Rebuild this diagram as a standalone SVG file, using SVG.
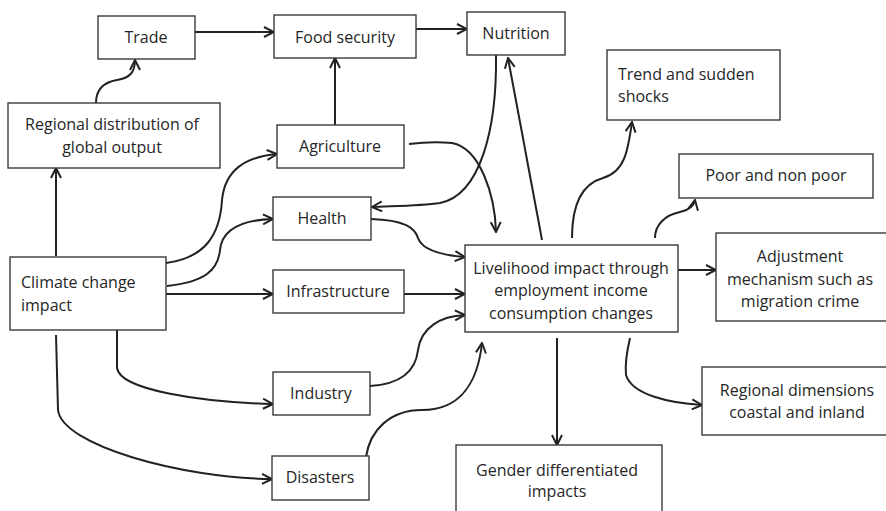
<svg xmlns="http://www.w3.org/2000/svg" width="886" height="511" viewBox="0 0 886 511">
<style>
.box{fill:#fff;stroke:#3a3a3a;stroke-width:1.4}
.t{font-family:"Open Sans","DejaVu Sans",sans-serif;font-size:16px;fill:#262626}
.c{text-anchor:middle}
.e{fill:none;stroke:#222;stroke-width:2;marker-end:url(#a)}
</style>
<defs>
<marker id="a" viewBox="0 0 12 12" refX="11" refY="6" markerWidth="12" markerHeight="12" markerUnits="userSpaceOnUse" orient="auto">
<path d="M1,1 L11,6 L1,11" fill="none" stroke="#222" stroke-width="2"/>
</marker>
</defs>
<rect width="886" height="511" fill="#fff"/>
<g id="connectors">
<path class="e" d="M195,32 L274,32"/>
<path class="e" d="M416,29 L467,29"/>
<path class="e" d="M335,125 L335,58"/>
<path class="e" d="M96,103 C96,88 105,82 117,80 C130,78 135,72 135,60"/>
<path class="e" d="M56,256 L56,168"/>
<path class="e" d="M166,263 C205,258 220,235 222,200 C225,170 245,157 277,154"/>
<path class="e" d="M167,286 C205,282 218,270 220,250 C222,230 240,220 273,219"/>
<path class="e" d="M166,294 L273,294"/>
<path class="e" d="M117,330 L117,368 C120,390 200,402 273,404"/>
<path class="e" d="M56,335 L58,410 C62,445 180,478 272,479"/>
<path class="e" d="M371,219 C405,220 415,228 418,238 C422,250 440,255 465,257"/>
<path class="e" d="M404,294 L465,294"/>
<path class="e" d="M370,386 C405,384 416,368 418,350 C421,328 440,316 465,315"/>
<path class="e" d="M366,457 C370,430 390,410 422,410 C462,410 478,380 482,343"/>
<path class="e" d="M409,144 C425,142 440,142 452,143 C480,148 495,195 496,232"/>
<path class="e" d="M496,55 C497,130 480,195 440,203 C420,206 390,206 372,207"/>
<path class="e" d="M542,240 L508,58"/>
<path class="e" d="M572,238 C572,200 585,183 603,178 C625,172 628,150 632,122"/>
<path class="e" d="M655,238 C655,225 665,215 680,212 C690,210 694,205 695,200"/>
<path class="e" d="M678,270 L716,270"/>
<path class="e" d="M557,338 L557,445"/>
<path class="e" d="M630,338 C626,355 625,365 626,375 C632,395 670,403 702,405"/>
</g>
<g id="trade"><rect class="box" x="98" y="16" width="97" height="43"/><text class="t c" x="146" y="43">Trade</text></g>
<g id="food-security"><rect class="box" x="274" y="15" width="142" height="43"/><text class="t c" x="345" y="43">Food security</text></g>
<g id="nutrition"><rect class="box" x="467" y="12" width="98" height="43"/><text class="t c" x="516" y="39">Nutrition</text></g>
<g id="regional-distribution"><rect class="box" x="8" y="103" width="212" height="65"/><text class="t c" x="112" y="130">Regional distribution of</text><text class="t c" x="112" y="153">global output</text></g>
<g id="agriculture"><rect class="box" x="277" y="125" width="127" height="43"/><text class="t c" x="340" y="152">Agriculture</text></g>
<g id="health"><rect class="box" x="273" y="197" width="98" height="43"/><text class="t c" x="322" y="224">Health</text></g>
<g id="climate-change"><rect class="box" x="10" y="257" width="156" height="73"/><text class="t" x="21" y="288">Climate change</text><text class="t" x="21" y="311">impact</text></g>
<g id="infrastructure"><rect class="box" x="273" y="270" width="131" height="43"/><text class="t c" x="338" y="297">Infrastructure</text></g>
<g id="industry"><rect class="box" x="273" y="372" width="97" height="43"/><text class="t c" x="321" y="399">Industry</text></g>
<g id="disasters"><rect class="box" x="272" y="456" width="97" height="44"/><text class="t c" x="320" y="483">Disasters</text></g>
<g id="livelihood"><rect class="box" x="465" y="245" width="213" height="87"/><text class="t c" x="571" y="274">Livelihood impact through</text><text class="t c" x="571" y="296">employment income</text><text class="t c" x="571" y="319">consumption changes</text></g>
<g id="trend"><rect class="box" x="607" y="50" width="173" height="70"/><text class="t" x="618" y="80">Trend and sudden</text><text class="t" x="618" y="102">shocks</text></g>
<g id="poor"><rect class="box" x="679" y="154" width="194" height="44"/><text class="t c" x="776" y="181">Poor and non poor</text></g>
<g id="adjustment"><rect class="box" x="716" y="233" width="175" height="88"/><text class="t c" x="800" y="262">Adjustment</text><text class="t c" x="800" y="285">mechanism such as</text><text class="t c" x="800" y="307">migration crime</text></g>
<g id="regional-dimensions"><rect class="box" x="702" y="367" width="190" height="68"/><text class="t c" x="797" y="396">Regional dimensions</text><text class="t c" x="797" y="418">coastal and inland</text></g>
<g id="gender"><rect class="box" x="456" y="445" width="206" height="80"/><text class="t c" x="557" y="476">Gender differentiated</text><text class="t c" x="557" y="497">impacts</text></g>
</svg>
